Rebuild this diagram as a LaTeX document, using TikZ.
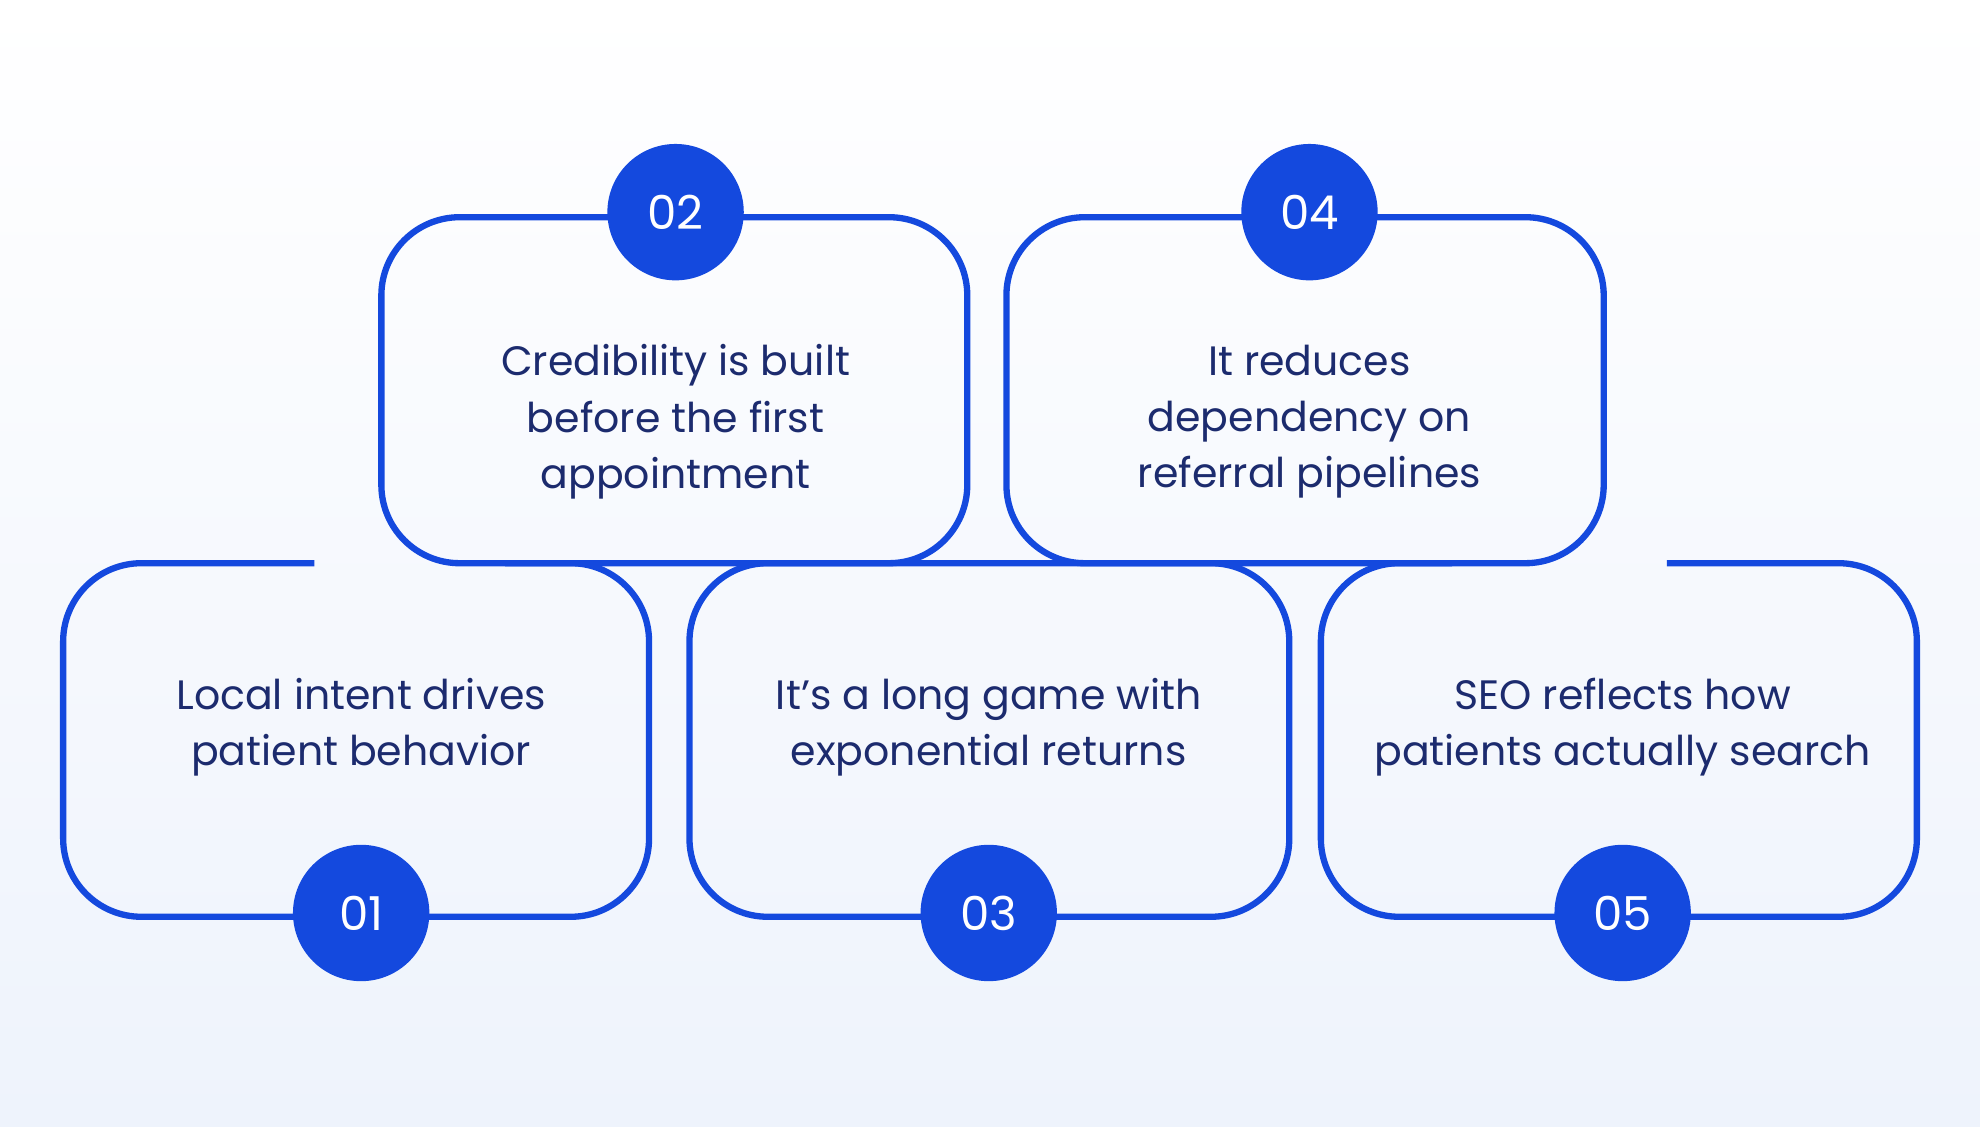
\documentclass[tikz,border=0pt]{standalone}
\usepackage{fontspec}
\setmainfont{Poppins}
\definecolor{bl}{HTML}{1449DE}
\definecolor{tx}{HTML}{1C2B6E}
\definecolor{bgb}{HTML}{EEF3FC}
\begin{document}
\begin{tikzpicture}[x=1pt,y=-1pt,
  frame/.style={draw=bl,line width=5pt,rounded corners=62pt},
  num/.style={circle,fill=bl,minimum size=108pt,inner sep=0pt,text=white,font=\fontsize{37}{40}\selectfont},
  lbl/.style={text=tx,align=center,font=\fontsize{32.5}{44.5}\selectfont}]
\shade[top color=white,bottom color=bgb] (0,0) rectangle (1568,892);
\useasboundingbox (0,0) rectangle (1568,892);
\draw[frame] (302,172) rectangle (766,446);
\draw[frame] (797,172) rectangle (1270,446);
\draw[frame] (546,446) rectangle (1021,726);
\draw[frame] (249,446) -- (50,446) -- (50,726) -- (514,726) -- (514,446) -- (400,446);
\draw[frame] (1320,446) -- (1518,446) -- (1518,726) -- (1046,726) -- (1046,446) -- (1150,446);
\node[num] (n2) at (535,168) {02};
\node[num] (n4) at (1037,168) {04};
\node[num] (n1) at (286,723) {01};
\node[num] (n3) at (783,723) {03};
\node[num] (n5) at (1285,723) {05};
\node[lbl] (t2) at (535,334) {Credibility is built\\before the first\\appointment};
\node[lbl] (t4) at (1037,334) {It reduces\\dependency on\\referral pipelines};
\node[lbl] (t1) at (286,576) {Local intent drives\\patient behavior};
\node[lbl] (t3) at (783,576) {It’s a long game with\\exponential returns};
\node[lbl] (t5) at (1285,576) {SEO reflects how\\patients actually search};
\end{tikzpicture}
\end{document}
